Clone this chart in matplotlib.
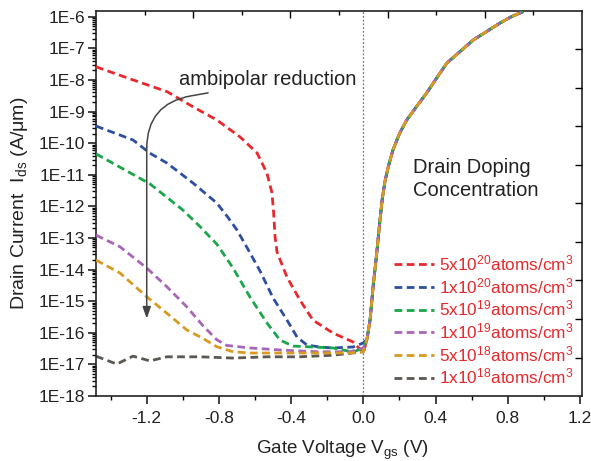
import numpy as np
import matplotlib
matplotlib.use('Agg')
import matplotlib.pyplot as plt
from matplotlib.ticker import FixedLocator, FuncFormatter, NullFormatter, LogLocator

plt.rcParams['font.family'] = ['Liberation Sans', 'DejaVu Sans']
plt.rcParams['mathtext.default'] = 'regular'

# ---------------- data (log10 of drain current, A/um) ----------------
labels = ['5x10$^{20}$atoms/cm$^3$', '1x10$^{20}$atoms/cm$^3$', '5x10$^{19}$atoms/cm$^3$',
          '1x10$^{19}$atoms/cm$^3$', '5x10$^{18}$atoms/cm$^3$', '1x10$^{18}$atoms/cm$^3$']
colors = ['#e8282c', '#2d4f9e', '#1aa64a', '#a866b6', '#d89a22', '#5b5752']

v_5e20 = [-1.481, -1.459, -1.276, -1.088, -0.944, -0.811, -0.684, -0.589, -0.534, -0.506,
          -0.497, -0.489, -0.478, -0.423, -0.351, -0.279, -0.168, -0.057, 0.0]
i_5e20 = [-7.58, -7.63, -8.00, -8.37, -8.85, -9.27, -9.80, -10.31, -10.95, -11.58,
          -12.21, -12.97, -13.45, -14.24, -14.97, -15.60, -16.01, -16.29, -16.64]

v_1e20 = [-1.481, -1.276, -1.182, -1.088, -0.944, -0.811, -0.750, -0.700, -0.640, -0.572,
          -0.500, -0.423, -0.367, -0.312, -0.240, -0.168, -0.057, 0.0]
i_1e20 = [-9.46, -9.90, -10.32, -10.63, -11.26, -11.90, -12.35, -12.75, -13.35, -14.05,
          -14.90, -15.60, -16.14, -16.39, -16.45, -16.48, -16.45, -16.32]

v_5e19 = [-1.481, -1.182, -0.999, -0.905, -0.811, -0.722, -0.628, -0.534, -0.462, -0.390,
          -0.279, -0.168, -0.057, 0.0]
i_5e19 = [-10.34, -11.29, -12.12, -12.64, -13.20, -13.95, -14.87, -15.69, -16.23, -16.42,
          -16.45, -16.48, -16.61, -16.48]

v_1e19 = [-1.481, -1.348, -1.200, -1.089, -0.978, -0.888, -0.812, -0.757, -0.628, -0.445,
          -0.257, -0.074, 0.0]
i_1e19 = [-12.91, -13.28, -13.95, -14.54, -15.18, -15.78, -16.22, -16.40, -16.48, -16.55,
          -16.60, -16.60, -16.48]

v_5e18 = [-1.481, -1.348, -1.200, -1.089, -0.978, -0.888, -0.812, -0.722, -0.628, -0.445,
          -0.257, -0.074, 0.0]
i_5e18 = [-13.70, -14.11, -14.86, -15.38, -15.91, -16.18, -16.44, -16.60, -16.64, -16.64,
          -16.64, -16.64, -16.60]

v_1e18 = [-1.481, -1.366, -1.276, -1.182, -1.089, -0.905, -0.722, -0.535, -0.351, -0.168, 0.0]
i_1e18 = [-16.74, -16.99, -16.74, -16.89, -16.76, -16.76, -16.80, -16.76, -16.76, -16.71, -16.60]

# shared on-state branch (V > 0)
on_v = [0.020, 0.037, 0.054, 0.074, 0.092, 0.105, 0.120, 0.140, 0.165, 0.200, 0.240, 0.300,
        0.351, 0.400, 0.462, 0.530, 0.608, 0.680, 0.757, 0.820, 0.885]
on_i = [-16.20, -15.60, -14.54, -13.48, -12.43, -11.75, -11.20, -10.70, -10.20, -9.70, -9.27,
        -8.80, -8.41, -7.99, -7.47, -7.13, -6.74, -6.48, -6.20, -6.00, -5.84]

series_v = [v_5e20, v_1e20, v_5e19, v_1e19, v_5e18, v_1e18]
series_i = [i_5e20, i_1e20, i_5e19, i_1e19, i_5e18, i_1e18]
zorders = [3, 3, 3, 4, 5, 2]

xticks = [-1.2, -0.8, -0.4, 0.0, 0.4, 0.8, 1.2]
xminor = [-1.4, -1.0, -0.6, -0.2, 0.2, 0.6, 1.0]
ydecades = list(range(-18, -5))

# ---------------- figure ----------------
fig = plt.figure(figsize=(5.91, 4.61), dpi=100)
ax = fig.add_axes([96/591, 1-396/461, 486/591, 385/461])

ax.axvline(0.0, color='#777777', lw=0.9, ls=(0, (1.5, 1.5)), zorder=1)

handles = []
for v, i, c, lab, z in zip(series_v, series_i, colors, labels, zorders):
    vv = np.array(v + on_v)
    ii = 10.0 ** np.array(i + on_i)
    ln, = ax.plot(vv, ii, color=c, lw=2.0, dashes=[2.8, 1.6], label=lab, zorder=z)
    handles.append(ln)

ax.set_yscale('log')
ax.set_xlim(-1.481, 1.211)
ax.set_ylim(1e-18, 10 ** -5.82)

ax.xaxis.set_major_locator(FixedLocator(xticks))
ax.xaxis.set_minor_locator(FixedLocator(xminor))
ax.set_xticklabels(['%.1f' % t for t in xticks])
ax.yaxis.set_major_locator(FixedLocator([10.0 ** d for d in ydecades]))
ax.yaxis.set_major_formatter(FuncFormatter(lambda y, p: '1E%d' % int(round(np.log10(y)))))
ax.yaxis.set_minor_locator(LogLocator(base=10, subs=np.arange(2, 10), numticks=100))
ax.yaxis.set_minor_formatter(NullFormatter())

ax.tick_params(axis='both', which='major', direction='out', length=6, width=1.2,
               labelsize=12.5, colors='#222222', top=False, right=False)
ax.tick_params(axis='both', which='minor', direction='out', length=3, width=1.0,
               top=False, right=False)
ax.tick_params(axis='x', which='major', pad=5)
ax.tick_params(axis='y', which='major', pad=2)
for s in ax.spines.values():
    s.set_linewidth(1.2)
    s.set_color('#222222')

# top / right frame ticks (inward, unlabeled)
axT = ax.twiny()
axT.set_xlim(0, 10)
axT.xaxis.set_major_locator(FixedLocator([2, 4, 6, 8]))
axT.xaxis.set_minor_locator(FixedLocator([1, 3, 5, 7, 9]))
axT.tick_params(axis='x', which='major', direction='in', length=5, width=1.0, labeltop=False)
axT.tick_params(axis='x', which='minor', direction='in', length=3, width=1.0)
axR = ax.twinx()
axR.set_ylim(0, 10)
axR.yaxis.set_major_locator(FixedLocator(list(range(1, 10))))
axR.yaxis.set_minor_locator(FixedLocator([]))
axR.tick_params(axis='y', which='major', direction='in', length=5, width=1.0, labelright=False)
for a in (axT, axR):
    for s in a.spines.values():
        s.set_visible(False)

ax.set_xlabel('Gate Voltage V$_{gs}$ (V)', fontsize=13.5, color='#222222', va='center')
ax.xaxis.set_label_coords(0.507, -0.14)
ax.set_ylabel('Drain Current  I$_{ds}$ (A/\u03bcm)', fontsize=14, color='#222222',
              va='center')
ax.yaxis.set_label_coords(-0.158, 0.5)

ax.text(-0.528, 10 ** -8.0, 'ambipolar reduction', fontsize=14.5, ha='center', va='center',
        color='#222222', zorder=6)
ax.annotate('', xy=(-1.2, 10 ** -15.55), xytext=(-0.86, 10 ** -8.41),
            arrowprops=dict(arrowstyle='-|>,head_length=0.7,head_width=0.25',
                            connectionstyle='angle,angleA=10,angleB=90,rad=45',
                            color='#444444', lw=1.1, shrinkA=0, shrinkB=0), zorder=6)

ax.text(0.275, 10 ** -11.14, 'Drain Doping\nConcentration', fontsize=14.5, ha='left',
        va='center', linespacing=1.25, color='#222222')

leg = ax.legend(handles=handles, loc='upper left', bbox_to_anchor=(0.613, 0.37),
                frameon=False, fontsize=12.4, handlelength=2.3, handletextpad=0.3,
                labelspacing=0.16, borderpad=0, borderaxespad=0)
for t in leg.get_texts():
    t.set_color('#e8282c')

fig.savefig('out.png', dpi=100)
